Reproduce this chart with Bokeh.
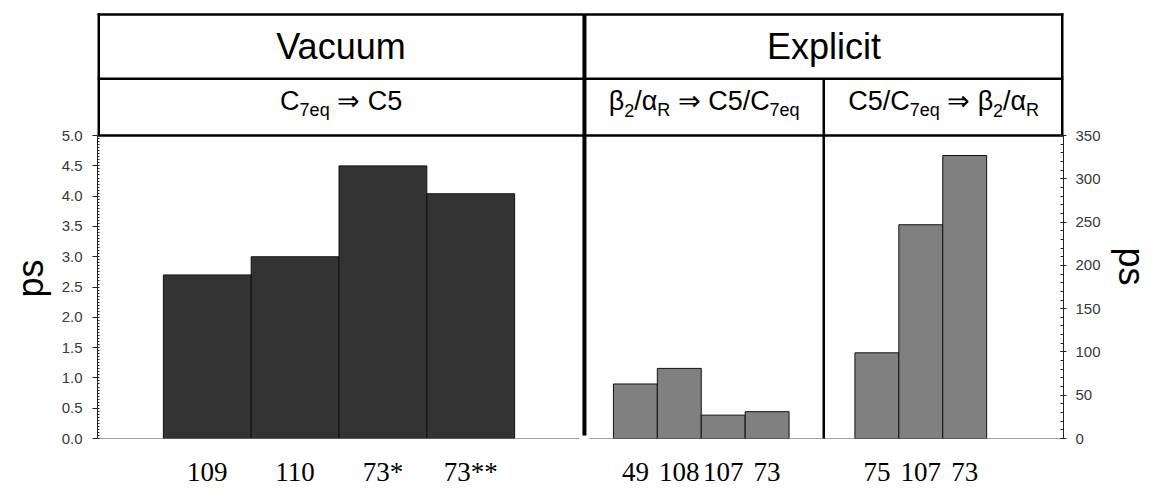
import math
from bokeh.plotting import figure
from bokeh.models import Range1d, LinearAxis, FixedTicker, PrintfTickFormatter, ColumnDataSource, Title
from bokeh.core.properties import value, field
from bokeh.embed import file_html
from bokeh.resources import INLINE

# ---------------- data ----------------
vacuum_labels = ["109", "110", "73*", "73**"]
vacuum_ps = [2.70, 3.00, 4.50, 4.04]
explicit1_labels = ["49", "108", "107", "73"]
explicit1_sd = [63, 81, 27, 31]
explicit2_labels = ["75", "107", "73"]
explicit2_sd = [99, 247, 327]

group_titles = ["Vacuum", "Explicit"]
NB = "\u00a0"
# subtitle pieces: (text, is_subscript)
sub_vacuum = [("C", 0), ("7eq", 1), (NB + "\u21d2" + NB + "C5", 0)]
sub_exp1 = [("\u03b2", 0), ("2", 1), ("/\u03b1", 0), ("R", 1), (NB + "\u21d2" + NB + "C5/C", 0), ("7eq", 1)]
sub_exp2 = [("C5/C", 0), ("7eq", 1), (NB + "\u21d2" + NB + "\u03b2", 0), ("2", 1), ("/\u03b1", 0), ("R", 1)]

ps_ticks = [i * 0.5 for i in range(11)]
ps_minor = [i * 0.05 for i in range(101)]
sd_ticks = [i * 50 for i in range(8)]
sd_minor = [i * 10 for i in range(36)]

# ---------------- layout constants ----------------
X_END = 22.0
VAC_START, VAC_W = 1.5, 2.0
E1_START, E1_W = 11.75, 1.0
E2_START, E2_W = 17.25, 1.0
DIV1 = 11.09
DIV2 = 16.54
PS_MAX = 5.0
SD_PER_PS = 70.0
PS_TOP = 7.23
HDR_TOP = 7.0
HDR_MID = 5.94
ROW1_BASE = 6.47
ROW2_BASE = 5.57
SANS = "Liberation Sans"

vac_x = [VAC_START + VAC_W * (i + 0.5) for i in range(len(vacuum_ps))]
e1_x = [E1_START + E1_W * (i + 0.5) for i in range(len(explicit1_sd))]
e2_x = [E2_START + E2_W * (i + 0.5) for i in range(len(explicit2_sd))]

p = figure(width=1167, height=502, output_backend="svg", toolbar_location=None,
           x_range=Range1d(0, X_END), y_range=Range1d(0, PS_TOP),
           x_axis_location=None, y_axis_location=None,
           min_border_left=97, min_border_right=104, min_border_top=0, min_border_bottom=64)
p.extra_y_ranges = {"sd": Range1d(0, PS_TOP * SD_PER_PS)}
p.outline_line_color = None
p.grid.visible = False
p.background_fill_color = "white"

# left axis
la = LinearAxis(bounds=(0, PS_MAX), ticker=FixedTicker(ticks=ps_ticks, minor_ticks=ps_minor),
                formatter=PrintfTickFormatter(format="%.1f"))
la.axis_line_color = "#222222"
la.major_tick_in = 0
la.major_tick_out = 5
la.minor_tick_in = 2
la.minor_tick_out = 0
la.major_tick_line_color = "#222222"
la.minor_tick_line_color = "#222222"
la.major_label_text_font = SANS
la.major_label_text_font_size = "15px"
la.major_label_text_color = "#383838"
la.major_label_standoff = 10
p.add_layout(la, "left")

# right axis
ra = LinearAxis(y_range_name="sd", bounds=(0, PS_MAX * SD_PER_PS),
                ticker=FixedTicker(ticks=sd_ticks, minor_ticks=sd_minor),
                formatter=PrintfTickFormatter(format="%d"))
ra.axis_line_color = "#222222"
ra.major_tick_in = 3
ra.major_tick_out = 3
ra.minor_tick_in = 3
ra.minor_tick_out = 0
ra.major_tick_line_color = "#222222"
ra.minor_tick_line_color = "#222222"
ra.major_label_text_font = SANS
ra.major_label_text_font_size = "15px"
ra.major_label_text_color = "#383838"
ra.major_label_standoff = 9
p.add_layout(ra, "right")

# axis titles, placed along the 0..5 / 0..350 part of the axes
p.add_layout(Title(text="ps", align="left", offset=141, standoff=15, text_font=SANS,
                   text_font_size="36px", text_font_style="normal", text_color="black"), "left")
p.add_layout(Title(text="ps", align="left", offset=247, standoff=15, text_font=SANS,
                   text_font_size="36px", text_font_style="normal", text_color="black"), "right")

# bottom axis with bar labels
centers = vac_x + e1_x + e2_x
names = vacuum_labels + explicit1_labels + explicit2_labels
ba = LinearAxis(ticker=FixedTicker(ticks=centers),
                major_label_overrides={c: n for c, n in zip(centers, names)})
ba.axis_line_color = None
ba.major_tick_line_color = None
ba.minor_tick_line_color = None
ba.major_label_text_font = "Liberation Serif"
ba.major_label_text_font_size = "27px"
ba.major_label_text_color = "black"
ba.major_label_standoff = 12
p.add_layout(ba, "below")

# bars
p.vbar(x=vac_x, width=VAC_W, top=vacuum_ps, bottom=0,
       fill_color="#333333", line_color="#111111", line_width=1)
p.vbar(x=e1_x, width=E1_W, top=explicit1_sd, bottom=0, y_range_name="sd",
       fill_color="#808080", line_color="#111111", line_width=1)
p.vbar(x=e2_x, width=E2_W, top=explicit2_sd, bottom=0, y_range_name="sd",
       fill_color="#808080", line_color="#111111", line_width=1)

# baselines
p.segment(x0=[0, 11.2, DIV2], y0=[0, 0, 0], x1=[10.96, DIV2, X_END], y1=[0, 0, 0],
          line_color="#444444", line_width=1.2)
p.segment(x0=[10.96], y0=[0], x1=[10.96], y1=[-0.04], line_color="#444444", line_width=1.2)

# header table lines
p.segment(x0=[0, 0, 0], y0=[HDR_TOP, HDR_MID, PS_MAX], x1=[X_END] * 3, y1=[HDR_TOP, HDR_MID, PS_MAX],
          line_color="black", line_width=2.5)
p.segment(x0=[0, X_END], y0=[PS_MAX, PS_MAX], x1=[0, X_END], y1=[HDR_TOP + 0.02, HDR_TOP + 0.02],
          line_color="black", line_width=5)
p.segment(x0=[DIV1], y0=[0.05], x1=[DIV1], y1=[HDR_TOP], line_color="black", line_width=4)
p.segment(x0=[DIV2], y0=[-0.04], x1=[DIV2], y1=[HDR_MID], line_color="black", line_width=2.5)

# header titles
p.text(x=[DIV1 / 2, (DIV1 + X_END) / 2], y=[ROW1_BASE] * 2, text=group_titles,
       text_font=value(SANS), text_font_size="36px", text_align="center",
       text_baseline="alphabetic", text_color="black")

# subtitles with subscripts
W = {"C": .722, "5": .556, "7": .556, "e": .556, "q": .556, "/": .278, "\u03b2": .575,
     "\u03b1": .578, "R": .722, "2": .556, " ": .278, NB: .278, "\u21d2": .84}
MAIN, SUB = 27, 18

def twidth(s, size):
    return sum(W.get(ch, .556) for ch in s) * size

src = dict(x=[], y=[], text=[], size=[], xo=[], yo=[])
for cx, pieces in [(DIV1 / 2, sub_vacuum), ((DIV1 + DIV2) / 2, sub_exp1), ((DIV2 + X_END) / 2, sub_exp2)]:
    total = sum(twidth(t, SUB if s else MAIN) for t, s in pieces)
    off = -total / 2
    for t, s in pieces:
        sz = SUB if s else MAIN
        src["x"].append(cx)
        src["y"].append(ROW2_BASE)
        src["text"].append(t)
        src["size"].append(f"{sz}px")
        src["xo"].append(off)
        src["yo"].append(9 if s else 0)
        off += twidth(t, sz)
p.text(x="x", y="y", text="text", source=ColumnDataSource(src), text_font=value(SANS),
       text_font_size=field("size"), x_offset="xo", y_offset="yo",
       text_align="left", text_baseline="alphabetic", text_color="black")

open("out.html", "w").write(file_html(p, INLINE))
